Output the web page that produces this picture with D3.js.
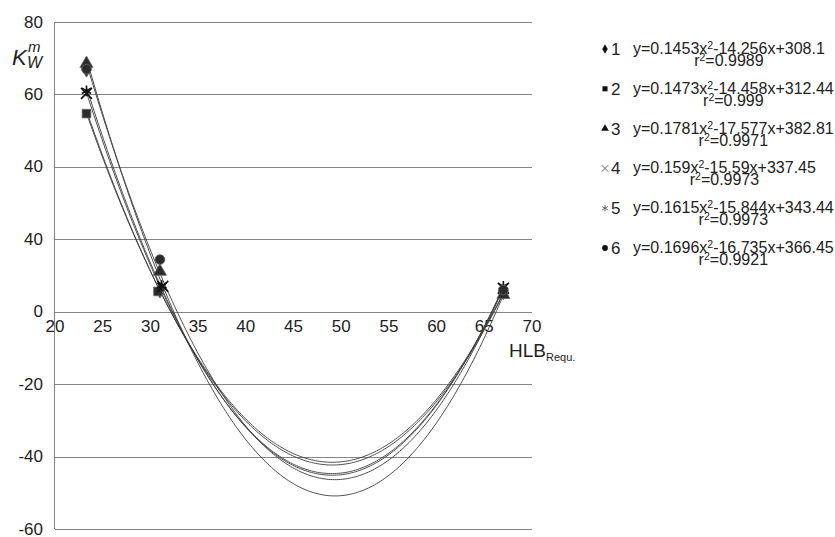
<!DOCTYPE html>
<html>
<head>
<meta charset="utf-8">
<style>
body { margin: 0; background: #fff; }
svg text { font-family: "Liberation Sans", Arial, sans-serif; fill: #222; }
.grid line { stroke: #858585; stroke-width: 1; shape-rendering: crispEdges; }
.trend { fill: none; stroke: #3a3a3a; stroke-width: 0.9; }
</style>
<script src="https://cdn.jsdelivr.net/npm/d3@7"></script>
</head>
<body>
<svg id="chart" width="835" height="537"></svg>
<script>
// axis ticks (the picture labels 20 as "40", kept as drawn)
var xTicks = [20, 25, 30, 35, 40, 45, 50, 55, 60, 65, 70];
var yTicks = [80, 60, 40, 20, 0, -20, -40, -60];
var yTickLabels = ["80", "60", "40", "40", "0", "-20", "-40", "-60"];

// series
var seriesNames = ["1", "2", "3", "4", "5", "6"];
var seriesSymbols = ["diamond", "square", "triangle", "times", "asterisk", "circle"];
var coefA = [0.1453, 0.1473, 0.1781, 0.159, 0.1615, 0.1696];
var coefB = [-14.256, -14.458, -17.577, -15.59, -15.844, -16.735];
var coefC = [308.1, 312.44, 382.81, 337.45, 343.44, 366.45];
var r2Labels = ["0.9989", "0.999", "0.9971", "0.9973", "0.9973", "0.9921"];

// measured points (HLB, Kw)
var hlb1 = [23.3, 31.0, 67.0], kw1 = [67.0, 6.0, 5.5];
var hlb2 = [23.3, 30.8, 67.0], kw2 = [54.7, 5.6, 5.0];
var hlb3 = [23.3, 31.0, 67.0], kw3 = [68.5, 11.1, 4.7];
var hlb4 = [23.3, 31.3, 67.0], kw4 = [60.3, 7.0, 6.5];
var hlb5 = [23.3, 31.2, 67.0], kw5 = [61.0, 7.2, 7.0];
var hlb6 = [23.3, 31.0, 67.0], kw6 = [67.0, 14.4, 6.0];
var hlbAll = [hlb1, hlb2, hlb3, hlb4, hlb5, hlb6];
var kwAll = [kw1, kw2, kw3, kw4, kw5, kw6];

var svg = d3.select("#chart");

var x = d3.scaleLinear().domain([20, 70]).range([55, 532]);
var y = d3.scaleLinear().domain([-60, 80]).range([529, 22]);

// horizontal gridlines
var grid = svg.append("g").attr("class", "grid");
grid.selectAll("line")
  .data(yTicks)
  .enter().append("line")
  .attr("x1", x(20)).attr("x2", x(70))
  .attr("y1", function (d) { return Math.round(y(d)) + 0.5; })
  .attr("y2", function (d) { return Math.round(y(d)) + 0.5; });
// y axis line
grid.append("line")
  .attr("x1", x(20) - 0.5).attr("x2", x(20) - 0.5)
  .attr("y1", y(80)).attr("y2", y(-60));

// y tick labels
svg.append("g").selectAll("text")
  .data(yTicks)
  .enter().append("text")
  .attr("x", 43)
  .attr("y", function (d) { return y(d) + 5.5; })
  .attr("text-anchor", "end")
  .style("font-size", "17px")
  .text(function (d, i) { return yTickLabels[i]; });

// x tick labels along the 0 line
svg.append("g").selectAll("text")
  .data(xTicks)
  .enter().append("text")
  .attr("x", function (d) { return x(d); })
  .attr("y", y(0) + 20)
  .attr("text-anchor", "middle")
  .style("font-size", "17px")
  .text(function (d) { return d; });

// trendlines from the fitted coefficients
var line = d3.line()
  .x(function (d) { return x(d[0]); })
  .y(function (d) { return y(d[1]); });

seriesNames.forEach(function (name, i) {
  var lo = d3.min(hlbAll[i]), hi = d3.max(hlbAll[i]);
  var pts = d3.range(lo, hi + 0.001, 0.2).map(function (h) {
    return [h, coefA[i] * h * h + coefB[i] * h + coefC[i]];
  });
  svg.append("path").attr("class", "trend").attr("d", line(pts));
});

// markers
function symbolType(s) {
  if (s === "diamond") return d3.symbolDiamond;
  if (s === "square") return d3.symbolSquare;
  if (s === "triangle") return d3.symbolTriangle;
  if (s === "times") return d3.symbolTimes || d3.symbolCross;
  if (s === "asterisk") return d3.symbolAsterisk || d3.symbolCross;
  return d3.symbolCircle;
}
function isStroke(s) { return s === "times" || s === "asterisk"; }

seriesNames.forEach(function (name, i) {
  var s = seriesSymbols[i];
  var pts = hlbAll[i].map(function (h, j) { return [h, kwAll[i][j]]; });
  svg.append("g").selectAll("path")
    .data(pts)
    .enter().append("path")
    .attr("transform", function (d) { return "translate(" + x(d[0]) + "," + y(d[1]) + ")"; })
    .attr("d", d3.symbol().type(symbolType(s)).size(isStroke(s) ? 80 : 75))
    .attr("fill", isStroke(s) ? "none" : "#2b2b2b")
    .attr("stroke", isStroke(s) ? "#111" : "#666")
    .attr("stroke-width", isStroke(s) ? 1.6 : 0.8);
});

// y axis title K_W^m
svg.append("text").attr("x", 12).attr("y", 65)
  .style("font-size", "22px").style("font-style", "italic").text("K");
svg.append("text").attr("x", 28).attr("y", 52)
  .style("font-size", "15px").style("font-style", "italic").text("m");
svg.append("text").attr("x", 27).attr("y", 68)
  .style("font-size", "16px").style("font-style", "italic").text("W");

// x axis title HLB_Requ.
var ht = svg.append("text").attr("x", 509).attr("y", 357).style("font-size", "19px");
ht.append("tspan").text("HLB");
ht.append("tspan").attr("dy", 4).style("font-size", "11px").text("Requ.");

// legend with trendline equations
var legend = svg.append("g");
seriesNames.forEach(function (name, i) {
  var by = 54 + 39.8 * i;
  var s = seriesSymbols[i];
  legend.append("path")
    .attr("transform", "translate(605," + (by - 5) + ")")
    .attr("d", d3.symbol().type(symbolType(s)).size(isStroke(s) ? 30 : 26))
    .attr("fill", isStroke(s) ? "none" : "#111")
    .attr("stroke", isStroke(s) ? "#666" : "none")
    .attr("stroke-width", 1);
  legend.append("text").attr("x", 611).attr("y", by + 1)
    .style("font-size", "17px").text(name);

  var eq = legend.append("text").attr("x", 633).attr("y", by).style("font-size", "16px");
  eq.append("tspan").text("y=" + coefA[i] + "x");
  eq.append("tspan").attr("dy", -5).style("font-size", "10.5px").text("2");
  eq.append("tspan").attr("dy", 5).text(coefB[i] + "x+" + coefC[i]);
  var cx = 633 + eq.node().getComputedTextLength() / 2;

  var r2 = legend.append("text").attr("x", cx).attr("y", by + 12)
    .attr("text-anchor", "middle").style("font-size", "16px");
  r2.append("tspan").text("r");
  r2.append("tspan").attr("dy", -5).style("font-size", "10.5px").text("2");
  r2.append("tspan").attr("dy", 5).text("=" + r2Labels[i]);
});
</script>
</body>
</html>
